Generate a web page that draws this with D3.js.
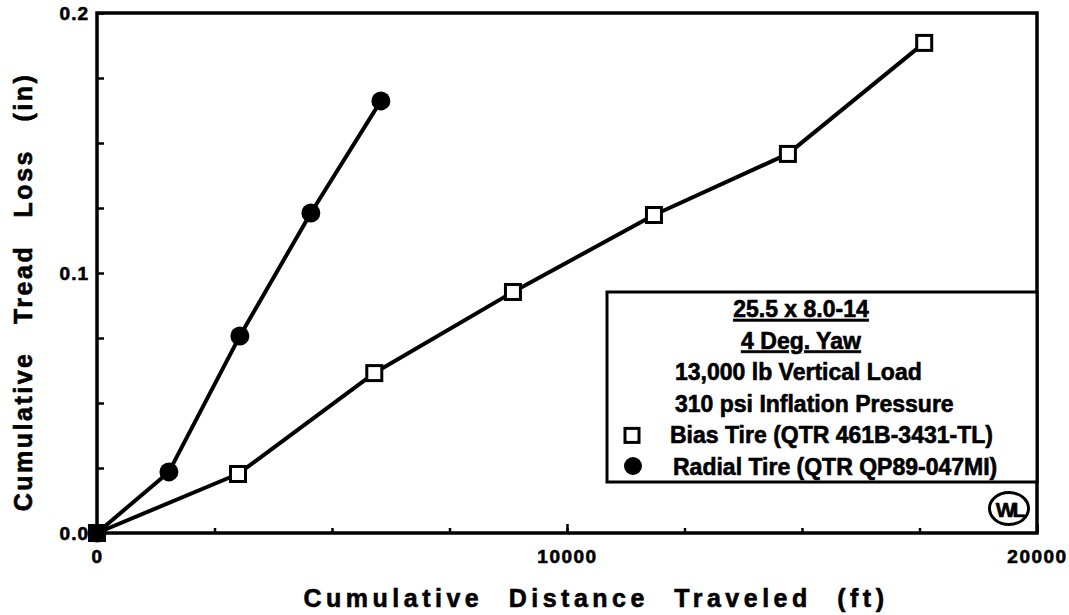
<!DOCTYPE html>
<html>
<head>
<meta charset="utf-8">
<script src="https://cdn.jsdelivr.net/npm/d3@7"></script>
<style>
  html, body { margin: 0; padding: 0; background: #fff; }
  svg { display: block; }
  text { font-family: "Liberation Sans", Arial, Helvetica, sans-serif; font-weight: bold; fill: #000;
         stroke: #000; stroke-width: 0.6px; }
</style>
</head>
<body>
<svg id="chart" width="1069" height="615"></svg>
<script>
// Tread wear data: cumulative distance (ft) vs cumulative tread loss (in)
const biasDistance   = [0, 3000, 5900, 8850, 11850, 14700, 17600];
const biasLoss       = [0, 0.0227, 0.0615, 0.0927, 0.1223, 0.1458, 0.1885];
const radialDistance = [0, 1530, 3040, 4550, 6040];
const radialLoss     = [0, 0.0235, 0.0758, 0.1231, 0.1662];

const xMinorTicks = d3.range(0, 20001, 2500);
const xMajorTicks = [0, 10000, 20000];
const yMinorTicks = d3.range(0, 0.2001, 0.025);
const yMajorTicks = [0, 0.1, 0.2];

const xTitle = "Cumulative Distance Traveled (ft)";
const yTitle = "Cumulative Tread Loss (in)";
const legendHeader = ["25.5 x 8.0-14", "4 Deg. Yaw"];
const legendNotes  = ["13,000 lb Vertical Load", "310 psi Inflation Pressure"];
const seriesNames  = ["Bias Tire (QTR 461B-3431-TL)", "Radial Tire (QTR QP89-047MI)"];

const svg = d3.select("#chart");
const m = { left: 97, top: 13, right: 1037, bottom: 533 };

const x = d3.scaleLinear().domain([0, 20000]).range([m.left, m.right]);
const y = d3.scaleLinear().domain([0, 0.2]).range([m.bottom, m.top]);

const styleLabels = g => g.selectAll("text")
  .attr("font-family", "Liberation Sans, Arial, sans-serif").attr("font-weight", "bold")
  .attr("font-size", 19).attr("stroke", "#000").attr("stroke-width", 0.6);

// x axis: minor ticks every 2500, labelled majors
svg.append("g").attr("transform", `translate(0,${m.bottom})`)
  .call(d3.axisBottom(x).tickValues(xMinorTicks).tickSize(-5).tickFormat(""))
  .call(g => g.select(".domain").remove())
  .call(g => g.selectAll("line").attr("stroke", "#000").attr("stroke-width", 2.5));
svg.append("g").attr("transform", `translate(0,${m.bottom})`)
  .call(d3.axisBottom(x).tickValues(xMajorTicks).tickSize(-9).tickPadding(17).tickFormat(d3.format("d")))
  .call(g => g.select(".domain").remove())
  .call(g => g.selectAll("line").attr("stroke", "#000").attr("stroke-width", 2.5))
  .call(styleLabels)
  .call(g => g.selectAll("text").attr("letter-spacing", 1.5));

// y axis
svg.append("g").attr("transform", `translate(${m.left},0)`)
  .call(d3.axisLeft(y).tickValues(yMinorTicks).tickSize(-7).tickFormat(""))
  .call(g => g.select(".domain").remove())
  .call(g => g.selectAll("line").attr("stroke", "#000").attr("stroke-width", 2.5));
svg.append("g").attr("transform", `translate(${m.left},0)`)
  .call(d3.axisLeft(y).tickValues(yMajorTicks).tickSize(0).tickPadding(8).tickFormat(d3.format(".1f")))
  .call(g => g.select(".domain").remove())
  .call(styleLabels)
  .call(g => g.selectAll("text").attr("letter-spacing", 1));

// plot frame
svg.append("rect")
  .attr("x", m.left).attr("y", m.top)
  .attr("width", m.right - m.left).attr("height", m.bottom - m.top)
  .attr("fill", "none").attr("stroke", "#000").attr("stroke-width", 3.5);

// series lines
const line = d3.line().x(d => x(d[0])).y(d => y(d[1]));
const biasPts = biasDistance.map((d, i) => [d, biasLoss[i]]);
const radialPts = radialDistance.map((d, i) => [d, radialLoss[i]]);

svg.append("path").datum(biasPts).attr("d", line)
  .attr("fill", "none").attr("stroke", "#000").attr("stroke-width", 4).attr("stroke-linejoin", "round");
svg.append("path").datum(radialPts).attr("d", line)
  .attr("fill", "none").attr("stroke", "#000").attr("stroke-width", 4).attr("stroke-linejoin", "round");

// markers
const sq = 15;
svg.selectAll(".rad").data(radialPts).join("circle")
  .attr("cx", d => x(d[0])).attr("cy", d => y(d[1])).attr("r", 9.5).attr("fill", "#000");
svg.selectAll(".bias").data(biasPts).join("rect")
  .attr("x", d => x(d[0]) - sq / 2).attr("y", d => y(d[1]) - sq / 2)
  .attr("width", sq).attr("height", sq)
  .attr("fill", (d, i) => i === 0 ? "#000" : "#fff")
  .attr("stroke", "#000").attr("stroke-width", 3);

// axis titles
svg.append("text")
  .attr("x", 596).attr("y", 607).attr("text-anchor", "middle")
  .attr("font-size", 25).attr("letter-spacing", 4.5).attr("word-spacing", 14)
  .attr("stroke-width", 0.9)
  .text(xTitle);
svg.append("text")
  .attr("transform", "translate(32,292) rotate(-90)").attr("text-anchor", "middle")
  .attr("font-size", 25).attr("letter-spacing", 2.5).attr("word-spacing", 18)
  .attr("stroke-width", 0.9)
  .text(yTitle);

// legend box
const lg = svg.append("g");
lg.append("rect").attr("x", 607).attr("y", 292).attr("width", 1037 - 607).attr("height", 190)
  .attr("fill", "#fff").attr("stroke", "#000").attr("stroke-width", 3);
const base = 317, step = 31.6;
legendHeader.forEach((t, i) => {
  lg.append("text").attr("x", 801).attr("y", base + i * step).attr("text-anchor", "middle")
    .attr("font-size", 23).attr("text-decoration", "underline").text(t);
});
legendNotes.forEach((t, i) => {
  lg.append("text").attr("x", 675).attr("y", base + (i + 2) * step)
    .attr("font-size", 23).text(t);
});
seriesNames.forEach((t, i) => {
  const yy = base + (i + 4) * step;
  lg.append("text").attr("x", 670 + i * 3).attr("y", yy).attr("font-size", 23).text(t);
  if (i === 0) {
    lg.append("rect").attr("x", 632 - 7).attr("y", yy - 8 - 7).attr("width", 14).attr("height", 14)
      .attr("fill", "#fff").attr("stroke", "#000").attr("stroke-width", 3);
  } else {
    lg.append("circle").attr("cx", 633).attr("cy", yy - 9).attr("r", 9).attr("fill", "#000");
  }
});

// WL emblem
const logo = svg.append("g").attr("transform", "translate(1009,508.5)");
logo.append("ellipse").attr("rx", 19.5).attr("ry", 16).attr("fill", "#fff")
  .attr("stroke", "#000").attr("stroke-width", 3);
logo.append("text").attr("text-anchor", "middle").attr("y", 8)
  .attr("font-size", 21).attr("letter-spacing", -3).text("WL");
</script>
</body>
</html>
